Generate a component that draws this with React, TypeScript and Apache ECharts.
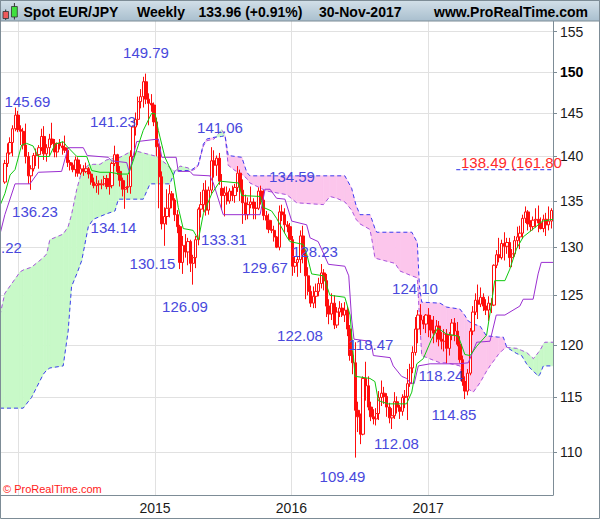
import React, { useEffect, useRef } from 'react';
import * as echarts from 'echarts';

// ---------------- data ----------------
const firstWeek = Date.UTC(2013, 10, 25); // Monday of the first weekly bar
const DAY_MS = 86400000;
const weekTime = (i: number) => firstWeek + i * 7 * DAY_MS;

// weekly bars: [open, high, low, close]
const ohlc2013: number[][] = [
  [137.1, 139.6, 136.9, 139.2], [139.2, 141.5, 138.8, 140.4], [140.4, 142.2, 140.2, 141.6],
  [141.6, 143.6, 140.0, 143.2], [143.2, 145.69, 142.9, 144.8], [144.8, 145.3, 142.8, 143.1],
];
const ohlc2014: number[][] = [
  [143.1, 143.6, 141.3, 142.9], [142.9, 143.3, 140.8, 141.3], [141.3, 143.8, 139.2, 140.0],
  [140.0, 140.5, 136.9, 137.8], [137.8, 139.0, 136.23, 138.6], [138.6, 140.4, 138.3, 140.1],
  [140.1, 140.9, 138.9, 140.2], [140.2, 141.3, 138.6, 141.0], [141.0, 143.2, 140.6, 142.3],
  [142.3, 143.5, 139.6, 140.3], [140.3, 141.4, 139.4, 141.0], [141.0, 142.6, 140.0, 142.0],
  [142.0, 143.9, 141.3, 141.5], [141.5, 142.0, 139.9, 140.5], [140.5, 141.6, 139.9, 141.5],
  [141.5, 142.0, 140.8, 141.2], [141.2, 141.7, 140.2, 141.0], [141.0, 142.4, 140.4, 140.7],
  [140.7, 141.0, 138.8, 139.3], [139.3, 139.6, 138.4, 139.0], [139.0, 139.3, 138.2, 138.5],
  [138.5, 140.0, 137.7, 139.6], [139.6, 139.9, 137.7, 138.1], [138.1, 139.1, 137.9, 138.6],
  [138.6, 139.0, 137.8, 138.3], [138.3, 139.3, 138.1, 138.6], [138.6, 138.8, 137.5, 138.0],
  [138.0, 138.3, 136.8, 137.1], [137.1, 137.6, 136.4, 136.7], [136.7, 137.8, 135.9, 136.9],
  [136.9, 137.3, 135.7, 136.8], [136.8, 137.4, 136.3, 136.9], [136.9, 137.8, 136.7, 137.5],
  [137.5, 137.9, 136.3, 136.6], [136.6, 138.2, 135.7, 136.7], [136.7, 139.4, 136.4, 139.2],
  [139.2, 141.23, 138.9, 140.2], [140.2, 140.3, 137.9, 138.3], [138.3, 138.9, 136.6, 137.3],
  [137.3, 137.6, 135.5, 136.3], [136.3, 137.3, 134.14, 136.5], [136.5, 137.9, 135.9, 136.6],
  [136.6, 140.7, 135.8, 140.0], [140.0, 143.6, 139.5, 143.4], [143.4, 145.1, 142.4, 144.3],
  [144.3, 147.0, 143.6, 146.4], [146.4, 147.9, 145.6, 147.0], [147.0, 149.4, 145.7, 148.8],
  [148.8, 149.79, 146.1, 146.7], [146.7, 147.4, 143.6, 146.2], [146.2, 147.3, 145.2, 146.0],
  [146.0, 146.3, 143.5, 144.0],
];
const ohlc2015: number[][] = [
  [144.0, 144.5, 140.0, 141.1], [141.1, 141.5, 134.2, 137.7], [137.7, 138.3, 131.9, 132.5],
  [132.5, 134.3, 130.15, 133.3], [133.3, 136.3, 132.4, 134.2], [134.2, 136.8, 133.2, 135.8],
  [135.8, 136.1, 134.2, 135.1], [135.1, 135.3, 132.8, 133.5], [133.5, 134.0, 131.5, 132.2],
  [132.2, 132.4, 127.7, 128.4], [128.4, 131.2, 127.2, 130.2], [130.2, 131.4, 128.9, 129.5],
  [129.5, 131.0, 128.1, 130.6], [130.6, 130.8, 127.4, 128.3], [128.3, 129.2, 126.09, 128.9],
  [128.9, 131.2, 127.8, 130.8], [130.8, 134.3, 130.2, 134.1], [134.1, 136.0, 133.2, 134.6],
  [134.6, 137.0, 133.8, 136.2], [136.2, 137.3, 133.4, 134.0], [134.0, 136.6, 133.5, 136.2],
  [136.2, 141.06, 135.8, 139.5], [139.5, 140.7, 137.6, 139.0], [139.0, 140.1, 137.8, 139.8],
  [139.8, 140.4, 136.8, 137.2], [136.4, 138.0, 134.0, 135.6], [135.6, 136.6, 133.31, 135.9],
  [135.9, 136.6, 134.6, 135.0], [135.0, 136.4, 134.7, 136.1], [136.1, 136.7, 135.0, 135.6],
  [135.6, 136.9, 134.8, 136.5], [136.5, 138.9, 136.0, 138.1], [138.1, 138.5, 135.0, 136.2],
  [136.2, 137.4, 132.5, 134.8], [134.8, 135.7, 132.9, 133.5], [133.5, 135.4, 133.0, 134.6],
  [134.6, 136.6, 134.2, 134.9], [134.9, 135.3, 133.0, 134.2], [134.2, 134.9, 133.0, 134.2],
  [134.2, 136.5, 134.0, 136.1], [136.1, 136.7, 134.6, 135.1], [135.1, 136.2, 132.9, 133.4],
  [133.4, 133.9, 131.9, 132.9], [132.9, 133.6, 131.5, 131.9], [131.9, 132.9, 131.5, 131.8],
  [131.8, 132.3, 130.6, 131.1], [131.1, 131.2, 129.9, 130.0], [130.0, 134.5, 129.67, 133.8],
  [133.8, 134.59, 132.8, 133.5], [133.5, 134.2, 131.5, 132.4], [132.4, 132.8, 131.6, 132.2],
  [132.2, 132.6, 130.8, 130.8],
];
const ohlc2016: number[][] = [
  [130.8, 131.2, 127.0, 128.0], [128.0, 129.0, 127.3, 128.4], [128.4, 129.0, 126.9, 128.7],
  [128.7, 131.8, 127.3, 131.2], [131.2, 132.3, 128.3, 129.2], [129.2, 129.6, 124.6, 127.0],
  [127.0, 127.9, 125.0, 125.4], [125.4, 126.0, 123.8, 124.2], [124.2, 125.9, 123.7, 124.9],
  [124.9, 126.2, 123.7, 125.4], [125.4, 126.8, 124.9, 126.2], [126.2, 128.23, 125.7, 127.3],
  [127.3, 127.7, 125.5, 126.5], [126.5, 127.2, 122.8, 123.9], [123.9, 124.6, 122.08, 123.1],
  [123.1, 125.2, 122.5, 124.2], [124.2, 125.0, 121.6, 122.0], [122.0, 123.8, 121.7, 123.3],
  [123.3, 124.4, 122.8, 123.7], [123.7, 124.2, 122.8, 123.0], [123.0, 124.3, 122.3, 123.5],
  [123.5, 123.9, 120.9, 121.6], [121.6, 122.0, 118.5, 119.0], [119.0, 119.5, 117.2, 118.3],
  [118.3, 120.3, 109.49, 113.8], [113.8, 114.6, 111.8, 113.2], [113.2, 113.5, 110.7, 111.6],
  [111.6, 117.0, 111.5, 116.8], [116.8, 118.4, 114.7, 116.1], [116.1, 117.0, 113.8, 114.1],
  [114.1, 114.6, 112.8, 113.2], [113.2, 113.9, 112.5, 113.0], [113.0, 114.0, 112.4, 113.5],
  [113.5, 115.6, 112.9, 115.0], [115.0, 116.6, 114.2, 115.4], [115.4, 116.0, 114.4, 115.1],
  [115.1, 115.4, 113.2, 114.1], [114.1, 114.5, 112.6, 113.1], [113.1, 114.0, 112.08, 113.3],
  [113.3, 115.5, 113.0, 114.6], [114.6, 115.1, 113.5, 114.1], [114.1, 114.3, 113.0, 113.7],
  [113.7, 115.3, 113.3, 115.0], [115.0, 115.7, 114.0, 115.1], [115.1, 117.7, 112.9, 116.3],
  [116.3, 118.2, 116.0, 117.8], [117.8, 119.9, 117.3, 119.3], [119.3, 122.8, 119.0, 121.6],
  [121.6, 123.5, 120.2, 123.0], [123.0, 124.10, 121.0, 122.5], [122.5, 122.9, 121.6, 122.1],
  [122.1, 123.1, 121.2, 123.0],
];
const ohlc2017: number[][] = [
  [123.0, 123.7, 120.8, 122.5], [122.5, 123.0, 120.7, 121.5], [121.5, 122.9, 120.2, 121.2],
  [121.2, 122.5, 120.3, 121.9], [121.9, 122.4, 119.9, 120.6], [120.6, 121.3, 119.6, 120.4],
  [120.4, 121.6, 119.4, 121.1], [121.1, 121.6, 118.24, 119.7], [119.7, 121.3, 119.0, 121.0],
  [121.0, 122.6, 120.5, 122.2], [122.2, 122.7, 120.4, 121.4], [121.4, 122.3, 119.9, 120.1],
  [120.1, 120.9, 118.3, 118.6], [118.6, 119.0, 116.1, 116.5], [116.5, 117.0, 114.85, 115.6],
  [115.6, 117.7, 115.2, 117.3], [117.3, 121.7, 117.1, 121.4], [121.4, 123.9, 121.0, 123.3],
  [123.3, 125.2, 123.0, 124.5], [124.5, 126.1, 122.6, 124.1], [124.1, 125.8, 123.8, 124.8],
  [124.8, 125.2, 123.4, 123.9], [123.9, 124.6, 123.0, 123.5], [123.5, 124.9, 122.4, 124.2],
  [124.2, 124.7, 123.2, 124.0], [124.0, 128.2, 123.9, 128.1], [128.1, 129.7, 127.8, 129.2],
  [129.2, 131.0, 128.4, 128.9], [128.9, 130.8, 128.7, 130.4], [130.4, 131.6, 128.6, 130.1],
  [130.1, 131.0, 129.3, 130.5], [130.5, 131.0, 127.9, 128.9], [128.9, 129.8, 127.9, 129.3],
  [129.3, 131.2, 129.0, 130.7], [130.7, 132.2, 130.0, 131.1], [131.1, 132.3, 129.8, 131.5],
  [131.5, 133.5, 130.9, 133.1], [133.1, 134.4, 132.6, 133.8], [133.8, 134.0, 131.8, 132.5],
  [132.5, 132.9, 131.7, 132.2], [132.2, 133.3, 131.8, 132.9], [132.9, 134.2, 132.1, 133.0],
  [133.0, 134.5, 131.6, 132.6], [132.6, 133.2, 131.9, 132.0], [132.0, 133.5, 131.6, 133.0],
  [133.0, 133.7, 131.2, 132.4], [132.4, 134.4, 131.8, 132.8], [132.8, 134.2, 132.0, 133.96],
];

// Ichimoku lines, vertices as [week index, value]
const tenkanPts: number[][] = [
  [-1.86, 134.5], [0, 135.8], [2, 137.9], [3.9, 138.5], [6.4, 141.3], [8.3, 141.5], [10.8, 141.2],
  [12.7, 140.0], [17, 140.0], [19.2, 141.4], [22.3, 141.7], [23.6, 141.2], [27.5, 140.0], [31.3, 140.0],
  [33.2, 138.4], [36.4, 138.2], [40.2, 138.2], [44, 138.0], [47.2, 138.0], [48.5, 139.0], [52.9, 143.0],
  [56.1, 145.0], [57.4, 145.0], [58.7, 143.0], [61.2, 139.9], [64.4, 137.9], [66.3, 134.3], [68.2, 132.0],
  [72, 131.8], [74, 130.8], [75.9, 133.6], [79.1, 135.8], [82.3, 137.2], [89.3, 137.0], [90.6, 135.6],
  [97.6, 135.5], [98.8, 134.3], [102, 133.9], [103.9, 133.1], [107.8, 131.1], [109, 130.6], [114.1, 130.3],
  [115.4, 129.3], [117.3, 127.2], [121.8, 127.0], [124.3, 125.0], [130, 124.8], [132, 123.0], [133.9, 117.0],
  [139.6, 116.8], [141.5, 116.5], [142.8, 114.7], [146.6, 114.4], [153.6, 114.4], [155.6, 115.5],
  [157.5, 118.2], [160, 118.7], [163, 120.5], [165.5, 121.7], [168.9, 121.1], [173.4, 120.9], [175.9, 119.1],
  [177.9, 119.0], [180.4, 119.9], [184.2, 121.0], [186, 124.0], [187.3, 126.5], [191.2, 126.5],
  [193.1, 127.7], [195.6, 129.8], [198.2, 131.1], [201.8, 131.9], [205.6, 132.8], [209.6, 133.0],
];
const kijunPts: number[][] = [
  [-1.86, 131.4], [0, 133.5], [3.9, 136.9], [9.6, 136.9], [12.8, 138.2], [21.7, 138.3], [24.2, 141.0],
  [30, 141.0], [31.5, 140.1], [39.5, 139.9], [40.8, 139.5], [46.6, 139.3], [47.6, 138.2], [50.4, 141.7],
  [58.7, 142.0], [60, 139.9], [65.5, 139.9], [66.3, 138.3], [70.8, 138.3], [72, 137.9], [78.4, 137.8],
  [79.7, 137.0], [83.5, 133.5], [97.6, 133.5], [99.5, 136.3], [101.4, 136.3], [103.9, 135.3], [107.1, 135.2],
  [109.7, 132.8], [115.4, 132.4], [116.7, 131.0], [119.8, 130.6], [123.7, 128.2], [130, 128.0], [131.5, 127.0],
  [132.6, 122.6], [133.5, 120.6], [139.6, 120.4], [140.3, 119.9], [140.9, 119.0], [147.3, 118.8],
  [148.5, 118.0], [151.7, 117.0], [153.6, 116.8], [154.9, 116.4], [156.5, 116.3], [158.1, 118.0],
  [162.6, 118.2], [173.4, 118.2], [177.2, 118.3], [180.4, 120.3], [185.5, 120.4], [187.9, 123.0],
  [191.2, 123.0], [196.9, 123.9], [198.2, 124.6], [202, 124.6], [203.9, 127.2], [205.1, 128.4], [209.6, 128.4],
];
// cloud (senkou spans) vertices
const cloudWeeks: number[] = [
  -1.86, 0, 5.8, 7, 10.2, 14.7, 16, 17.2, 22.3, 24.2, 25.5, 27.5, 29.4, 31.9, 33.8, 36.4, 38.9, 42.1, 43.4,
  49.1, 52.9, 55.5, 58, 61.9, 63.1, 65, 67, 70, 71.5, 73, 74, 75.9, 77.2, 80, 82.9, 84.2, 85.4, 88, 90.6,
  92.5, 93.7, 100.1, 107.8, 111.6, 121.8, 124.3, 126.9, 130, 132.6, 134.3, 135.8, 139.6, 140.3, 141.5,
  142.2, 149.2, 151.1, 155.6, 157.7, 158.5, 159.4, 166.4, 168.9, 174, 175.8, 177.2, 179.1, 181.7, 184.2,
  185.5, 188.7, 190.6, 191.9, 195.7, 197.6, 199.5, 200.8, 202.1, 204, 204.6, 205.9, 206.5, 209.6,
];
const spanA: number[] = [
  123.0, 125.2, 127.4, 127.6, 127.9, 128.9, 129.3, 130.8, 131.4, 132.2, 133.5, 136.3, 138.3, 139.0, 139.1,
  139.1, 139.6, 139.8, 139.8, 140.7, 140.4, 140.2, 140.0, 139.1, 138.7, 138.3, 138.9, 138.7, 138.4, 138.6,
  139.0, 141.2, 141.8, 142.0, 143.1, 142.4, 139.0, 138.4, 138.0, 137.5, 137.0, 136.1, 135.7, 134.8, 134.6,
  135.5, 135.3, 134.9, 134.0, 133.0, 132.5, 131.9, 130.9, 128.9, 128.8, 128.3, 127.5, 127.0, 126.8, 123.0,
  119.0, 118.3, 118.3, 118.0, 116.1, 115.8, 115.5, 116.4, 117.5, 118.0, 119.1, 119.6, 119.8, 119.7, 119.5,
  119.3, 119.0, 118.7, 119.3, 119.5, 120.1, 120.3, 120.3,
];
const spanB: number[] = [
  114.0, 114.0, 114.0, 114.0, 115.0, 117.2, 117.6, 117.8, 118.0, 121.4, 125.9, 127.2, 128.6, 132.2, 133.0,
  133.3, 133.6, 133.9, 135.2, 135.2, 135.2, 136.9, 136.9, 136.9, 136.9, 138.3, 138.4, 138.4, 138.5, 138.8,
  139.1, 141.4, 142.0, 142.2, 142.3, 142.4, 140.1, 140.0, 139.9, 138.2, 137.8, 137.8, 137.8, 137.8, 137.8,
  137.8, 137.8, 137.8, 136.4, 134.5, 133.5, 133.5, 133.0, 132.0, 131.6, 131.6, 131.6, 131.6, 130.5, 126.0,
  124.3, 124.2, 123.8, 123.6, 123.0, 122.4, 122.1, 121.9, 120.9, 120.9, 120.8, 120.8, 119.8, 119.2, 119.0,
  118.2, 117.8, 117.5, 117.0, 117.2, 118.0, 118.0, 118.0,
];

const fibTarget = 138.49;
const fibStartWeek = 172.6;
const yTicks = [110, 115, 120, 125, 130, 135, 140, 145, 150, 155];
const yearTicks = [2014, 2015, 2016, 2017];
const yearLabels = [2015, 2016, 2017];

// ---------------- layout / styles ----------------
const FONT = "'Liberation Sans', Arial, Helvetica, sans-serif";
const X_MIN = Date.UTC(2013, 10, 12);
const X_MAX = Date.UTC(2017, 11, 1, 4);
const Y_MIN = 106.2;
const Y_MAX = 156.36;
const AXIS_GREY = '#7d8c96';
const GRID_GREY = '#e1e1e1';
const LABEL_BLUE = '#4848dc';
const GREEN_FILL = '#c8f9c8';
const PINK_FILL = '#fcc6ec';

const swingLabels: [string, number, number][] = [
  ['145.69', 27.5, 101], ['149.79', 146, 52], ['141.23', 113, 121.5], ['136.23', 35, 211],
  ['134.14', 113.5, 227.5], ['130.15', 152.5, 263], ['126.09', 185, 306], ['141.06', 220, 127.5],
  ['133.31', 224, 239.5], ['134.59', 292, 176], ['129.67', 265, 267], ['128.23', 315, 251],
  ['122.08', 300, 335.5], ['118.47', 371, 344], ['124.10', 415, 288.5], ['118.24', 441, 375],
  ['114.85', 454, 414], ['112.08', 396.5, 443.5], ['109.49', 342.5, 476],
];

function buildOption() {
  const allBars = [...ohlc2013, ...ohlc2014, ...ohlc2015, ...ohlc2016, ...ohlc2017];
  const candleData = allBars.map(([o, h, l, c], k) => [weekTime(k), o, c, l, h]);
  const toLine = (pts: number[][]) => pts.map(([w, v]) => [weekTime(w), v]);
  const cloudData = cloudWeeks.map((w, k) => [weekTime(w), spanA[k], spanB[k]]);

  const renderCloud = (params: any, api: any) => {
    const k = params.dataIndex;
    if (k >= cloudData.length - 1) return { type: 'group', children: [] };
    const [t0, a0, b0] = cloudData[k];
    const [t1, a1, b1] = cloudData[k + 1];
    const A0 = api.coord([t0, a0]);
    const B0 = api.coord([t0, b0]);
    const A1 = api.coord([t1, a1]);
    const B1 = api.coord([t1, b1]);
    const e0 = B0[1] - A0[1];
    const e1 = B1[1] - A1[1];
    const poly = (pts: number[][], up: boolean) => {
      const fill = up ? GREEN_FILL : PINK_FILL;
      return { type: 'polygon', shape: { points: pts }, style: { fill, stroke: fill, lineWidth: 0.6 } };
    };
    const children: any[] = [];
    if (e0 * e1 >= 0) {
      children.push(poly([A0, A1, B1, B0], e0 + e1 >= 0));
    } else {
      const t = e0 / (e0 - e1);
      const X = [A0[0] + (A1[0] - A0[0]) * t, A0[1] + (A1[1] - A0[1]) * t];
      children.push(poly([A0, X, B0], e0 > 0));
      children.push(poly([X, A1, B1], e1 > 0));
    }
    return { type: 'group', children };
  };

  const lineSeries = (data: any[], color: string, z: number, dashed: boolean) => ({
    type: 'line',
    data,
    showSymbol: false,
    symbol: 'none',
    silent: true,
    z,
    lineStyle: { color, width: 1, type: dashed ? [4, 3] : 'solid' },
  });

  const headerText = (text: string, x: number) => ({
    type: 'text',
    z: 101,
    style: {
      text, x, y: 12, fill: '#000', fontSize: 14, fontWeight: 'bold', fontFamily: FONT,
      textAlign: 'left', textVerticalAlign: 'middle',
    },
  });

  return {
    animation: false,
    backgroundColor: '#ffffff',
    grid: { left: 0, right: 47, top: 21, bottom: 24, containLabel: false, outerBoundsMode: 'none' },
    xAxis: {
      type: 'value',
      min: X_MIN,
      max: X_MAX,
      axisLine: { show: true, onZero: false, lineStyle: { color: AXIS_GREY, width: 1 } },
      axisTick: { show: false, customValues: yearTicks.map((y) => Date.UTC(y, 0, 1)) },
      axisLabel: {
        customValues: yearLabels.map((y) => Date.UTC(y, 0, 1)),
        formatter: (v: number) => String(new Date(v).getUTCFullYear()),
        color: '#1a1a1a', fontSize: 14, fontFamily: FONT, margin: 6,
      },
      splitLine: { show: true, lineStyle: { color: GRID_GREY, width: 1 } },
    },
    yAxis: {
      type: 'log',
      logBase: 10,
      min: Y_MIN,
      max: Y_MAX,
      position: 'right',
      axisLine: { show: true, lineStyle: { color: AXIS_GREY, width: 1 } },
      axisTick: { show: true, inside: false, length: 4, customValues: yTicks, lineStyle: { color: AXIS_GREY } },
      axisLabel: {
        customValues: yTicks,
        margin: 7,
        color: '#1a1a1a', fontSize: 14, fontFamily: FONT,
        formatter: (v: number) => {
          const r = Math.round(v);
          return r === 150 ? '{b|150}' : String(r);
        },
        rich: { b: { fontWeight: 'bold', fontSize: 14, fontFamily: FONT, color: '#000' } },
      },
      splitLine: { show: true, lineStyle: { color: GRID_GREY, width: 1 } },
    },
    series: [
      {
        type: 'custom',
        renderItem: renderCloud,
        data: cloudData,
        encode: { x: 0, y: [1, 2] },
        silent: true,
        clip: true,
        z: 1,
      },
      lineSeries(cloudData.map((d) => [d[0], d[1]]), '#a755de', 2, true),
      lineSeries(cloudData.map((d) => [d[0], d[2]]), '#3d3df0', 2, true),
      lineSeries([[weekTime(fibStartWeek), fibTarget], [X_MAX, fibTarget]], '#2e2ee8', 2, true),
      {
        type: 'candlestick',
        data: candleData,
        encode: { x: 0, y: [1, 2, 3, 4] },
        barWidth: 2.8,
        silent: true,
        z: 3,
        itemStyle: {
          color: '#ffffff', color0: '#ff0d0d',
          borderColor: '#ff0d0d', borderColor0: '#ff0d0d', borderWidth: 1,
        },
      },
      lineSeries(toLine(kijunPts), '#9a2ed0', 4, false),
      lineSeries(toLine(tenkanPts), '#0fc80f', 4, false),
    ],
    graphic: [
      {
        type: 'rect', z: 100,
        shape: { x: 0, y: 0, width: 600, height: 21 },
        style: {
          fill: new echarts.graphic.LinearGradient(0, 0, 0, 1, [
            { offset: 0, color: '#d3e0e9' },
            { offset: 1, color: '#a9bfce' },
          ]),
          stroke: AXIS_GREY, lineWidth: 1,
        },
      },
      { type: 'line', z: 101, shape: { x1: 5.7, y1: 9.5, x2: 5.7, y2: 20 }, style: { stroke: '#333', lineWidth: 1 } },
      { type: 'rect', z: 102, shape: { x: 3, y: 11.5, width: 5.5, height: 7 }, style: { fill: '#ee5a5a', stroke: '#333', lineWidth: 0.8 } },
      { type: 'line', z: 101, shape: { x1: 14.4, y1: 3, x2: 14.4, y2: 19.5 }, style: { stroke: '#333', lineWidth: 1 } },
      { type: 'rect', z: 102, shape: { x: 11.5, y: 6.5, width: 5.8, height: 10.5 }, style: { fill: '#3fe03f', stroke: '#333', lineWidth: 0.8 } },
      headerText('Spot EUR/JPY', 23.5),
      headerText('Weekly', 137),
      headerText('133.96 (+0.91%)', 198.5),
      headerText('30-Nov-2017', 319),
      headerText('www.ProRealTime.com', 434),
      {
        type: 'rect', z: 103,
        shape: { x: 0.5, y: 0.5, width: 599, height: 518 },
        style: { fill: 'none', stroke: AXIS_GREY, lineWidth: 1 },
      },
      ...swingLabels.map(([text, x, y]) => ({
        type: 'text', z: 50,
        style: { text, x, y, fill: LABEL_BLUE, fontSize: 15, fontFamily: FONT, textAlign: 'center', textVerticalAlign: 'middle' },
      })),
      {
        type: 'text', z: 50,
        style: { text: '.22', x: 1, y: 247.5, fill: LABEL_BLUE, fontSize: 15, fontFamily: FONT, textAlign: 'left', textVerticalAlign: 'middle' },
      },
      {
        type: 'text', z: 50,
        style: { text: '138.49 (161.80', x: 461, y: 162.5, fill: '#ff2a2a', fontSize: 15, fontFamily: FONT, textAlign: 'left', textVerticalAlign: 'middle' },
      },
      {
        type: 'text', z: 50,
        style: { text: '© ProRealTime.com', x: 3, y: 489, fill: '#ff1a1a', fontSize: 11, fontFamily: FONT, textAlign: 'left', textVerticalAlign: 'middle' },
      },
    ],
  };
}

export default function App() {
  const ref = useRef<HTMLDivElement>(null);
  useEffect(() => {
    document.body.style.margin = '0';
    const chart = echarts.init(ref.current as HTMLDivElement, undefined, { renderer: 'svg' });
    chart.setOption(buildOption() as any);
    return () => chart.dispose();
  }, []);
  return <div ref={ref} style={{ position: 'absolute', left: 0, top: 0, width: 600, height: 519 }} />;
}
